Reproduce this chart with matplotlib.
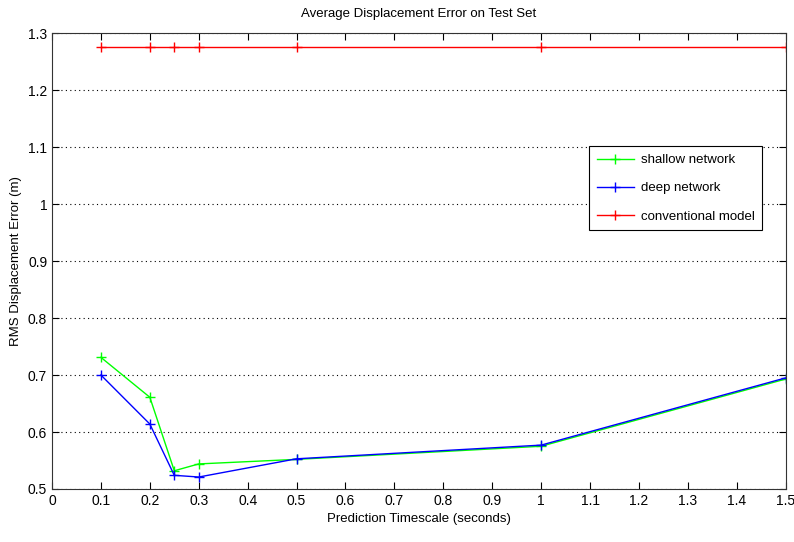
import matplotlib
matplotlib.use("Agg")
import matplotlib.pyplot as plt

x_vals = [0.1, 0.2, 0.25, 0.3, 0.5, 1.0, 1.5]
shallow = [0.731, 0.661, 0.532, 0.544, 0.552, 0.575, 0.693]
deep = [0.700, 0.614, 0.524, 0.521, 0.553, 0.577, 0.695]
conventional = [1.275, 1.275, 1.275, 1.275, 1.275, 1.275, 1.275]
xticks = [0, 0.1, 0.2, 0.3, 0.4, 0.5, 0.6, 0.7, 0.8, 0.9, 1, 1.1, 1.2, 1.3, 1.4, 1.5]
yticks = [0.5, 0.6, 0.7, 0.8, 0.9, 1, 1.1, 1.2, 1.3]

plt.rcParams['font.family'] = ['Liberation Sans', 'DejaVu Sans']
fig = plt.figure(figsize=(7.94, 5.42), dpi=100)
ax = fig.add_axes([0.0655, 0.0978, 0.924, 0.841])

ax.plot(x_vals, shallow, color=(0, 1, 0), marker='+', ms=7, lw=1, label='shallow network')
ax.plot(x_vals, deep, color=(0, 0, 1), marker='+', ms=7, lw=1, label='deep network')
ax.plot(x_vals, conventional, color=(1, 0, 0), marker='+', ms=7, lw=1, label='conventional model')

ax.set_xlim(0, 1.5)
ax.set_ylim(0.5, 1.3)
ax.set_xticks(xticks)
ax.set_xticklabels([f"{t:g}" for t in xticks])
ax.set_yticks(yticks)
ax.set_yticklabels([f"{t:g}" for t in yticks])
ax.tick_params(direction='in', top=True, right=True, labelsize=10, length=5)
ax.yaxis.grid(True, linestyle=(0, (1, 3)), color='black', lw=0.8)
for s in ax.spines.values():
    s.set_color('#333333')

ax.set_title('Average Displacement Error on Test Set', fontsize=9.5, pad=12)
ax.set_xlabel('Prediction Timescale (seconds)', fontsize=9.5)
ax.set_ylabel('RMS Displacement Error (m)', fontsize=9.5)

leg = ax.legend(loc='upper left', bbox_to_anchor=(0.732, 0.752), borderaxespad=0,
                fancybox=False, edgecolor='black', fontsize=9.5, framealpha=1,
                handlelength=2.8, labelspacing=1.2, handletextpad=0.5, borderpad=0.6)
leg.get_frame().set_linewidth(0.8)

fig.savefig('out.png', dpi=100)
